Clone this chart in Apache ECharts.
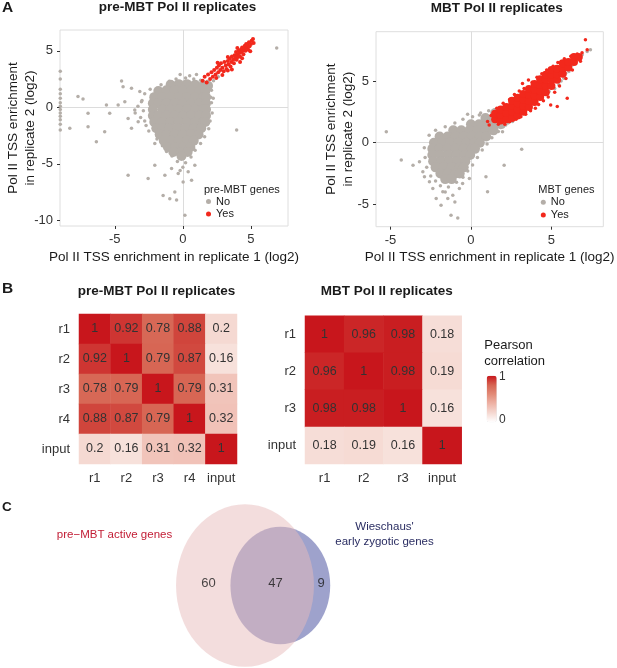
<!DOCTYPE html>
<html>
<head>
<meta charset="utf-8">
<title>Pol II replicates</title>
<script src="https://cdn.jsdelivr.net/npm/echarts@6/dist/echarts.min.js"></script>
<style>
  html, body { margin: 0; padding: 0; background: #fff; }
  #chart { width: 617px; height: 668px; }
</style>
</head>
<body>
<div id="chart"></div>
<script>
// ---- values (log2 enrichment, replicate 1 vs replicate 2) ----
// the dense cloud is summarised by a coarse set of points, outliers are kept one by one
const preCloud = [
  [-0.9,2.0],[-0.3,2.05],[0.3,2.05],[0.9,2.0],[1.5,1.95],[1.85,1.9],
  [-1.8,1.45],[-1.2,1.5],[-0.6,1.5],[0,1.5],[0.6,1.5],[1.2,1.45],[1.65,1.45],
  [-2.1,0.9],[-1.5,0.9],[-0.9,0.9],[-0.3,0.9],[0.3,0.9],[0.9,0.9],[1.5,0.9],[1.7,0.9],
  [-2.2,0.35],[-1.8,0.35],[-1.2,0.35],[-0.6,0.35],[0,0.35],[0.6,0.35],[1.2,0.35],[1.7,0.35],
  [-2.2,-0.2],[-1.5,-0.2],[-0.9,-0.2],[-0.3,-0.2],[0.3,-0.2],[0.9,-0.2],[1.5,-0.2],[1.7,-0.2],
  [-2.2,-0.75],[-1.8,-0.75],[-1.2,-0.75],[-0.6,-0.75],[0,-0.75],[0.6,-0.75],[1.2,-0.75],[1.7,-0.75],
  [-2.1,-1.3],[-1.5,-1.3],[-0.9,-1.3],[-0.3,-1.3],[0.3,-1.3],[0.9,-1.3],[1.5,-1.3],[1.65,-1.3],
  [-1.95,-1.85],[-1.5,-1.85],[-1.0,-1.85],[-0.4,-1.85],[0.2,-1.85],[0.8,-1.85],[1.35,-1.85],
  [-1.7,-2.4],[-1.2,-2.4],[-0.6,-2.4],[0,-2.4],[0.6,-2.4],[1.15,-2.4],
  [-1.4,-2.95],[-0.85,-2.95],[-0.3,-2.95],[0.3,-2.95],[0.8,-2.95],
  [-1.1,-3.5],[-0.55,-3.5],[0.05,-3.5],[0.55,-3.5],
  [-0.7,-3.95],[-0.15,-3.95],[0.35,-3.95],[-0.1,-4.3]
];
const preOther = [
  [-0.5,2.5],[0.2,2.6],[0.8,2.5],[1.3,2.4],[-1.0,2.3],[1.8,2.3],[-1.6,2.0],[0.5,2.8],[-0.2,2.9],[1.0,2.9],
  [-2.8,1.2],[-3.0,0.6],[-2.9,-0.3],[-3.1,-0.9],[-2.7,-1.6],[-2.5,-2.1],[-2.4,1.6],[-3.3,0.1],[-3.5,-0.5],[-2.8,-1.2],
  [2.1,1.5],[2.1,0.4],[2.15,-0.5],[2.0,-1.2],[1.9,-1.9],[1.6,-2.6],[1.3,-3.2],[2.05,0.9],
  [-1.9,-2.8],[-1.5,-3.4],[-1.2,-3.9],[-0.8,-4.3],[0.9,-3.8],[0.6,-4.4],[-0.4,-4.8],[0.2,-4.9],[0.0,-5.3],[-0.2,-5.6],
  [6.89,5.24],[-4.39,1.83],[-4.5,2.33],[-7.7,0.95],[-7.33,0.74],[-8.3,-1.86],[-6.96,-1.72],[-6.96,-0.53],[-6.35,-3.05],
  [-5.61,0.2],[-5.37,-0.53],[-5.74,-2.16],[-4.75,0.2],[-4.26,0.5],[-4.02,-0.98],[-3.77,-1.86],[-3.53,-0.24],
  [-3.28,-1.27],[-3.04,0.5],[-3.16,1.39],[-3.77,1.69],[-4.02,-6.0],[-2.55,-6.3],[-2.06,-5.12],[-1.32,-6.0],
  [-0.96,-8.08],[-0.59,-7.49],[0.15,-9.56],[0.02,-6.6],[0.39,-5.7],[0.64,-6.45],[0.88,-5.12],[3.95,-2.01],
  [-0.83,-5.41],[-0.34,-5.86],[-2.06,-3.2],[2.23,0.8],[-1.45,-7.8],[-0.46,-8.2],
  [1.9,2.2],[2.25,2.35],[1.55,2.1],[2.6,2.7],
  [-9,3.2],[-9,2.5],[-9,1.6],[-9,1.2],[-9,0.8],[-9,0.4],[-9,0.1],[-9,-0.2],[-9,-0.5],[-9,-0.8],[-9,-1.1],[-9,-1.5],[-9,-2.0]
];
const preActive = [
  [1.45,2.35],[1.6,2.7],[1.75,2.2],[1.85,2.9],[2.0,2.5],[2.1,3.1],[2.2,2.7],[2.3,3.3],[2.4,2.9],[2.5,3.5],
  [2.6,3.1],[2.65,3.7],[2.75,3.3],[2.8,3.9],[2.9,3.5],[3.0,3.2],[3.05,4.0],[3.15,3.7],[3.2,3.4],[3.3,4.1],
  [3.35,3.8],[3.45,4.3],[3.5,3.6],[3.55,4.0],[3.6,4.5],[3.7,4.2],[3.75,3.9],[3.8,4.6],[3.85,4.4],[3.9,4.9],
  [3.95,4.2],[4.0,4.7],[4.05,4.45],[4.1,5.0],[4.15,4.8],[4.2,4.5],[4.25,5.1],[4.3,4.9],[4.35,5.3],[4.4,5.0],
  [4.45,4.7],[4.5,5.2],[4.55,5.45],[4.6,5.0],[4.65,5.6],[4.7,5.3],[4.75,5.5],[4.8,5.1],[4.85,5.75],[4.9,5.4],
  [5.0,5.6],[5.05,5.9],[5.15,6.05],[5.2,5.7],[4.35,4.35],[3.3,3.25],[2.45,2.6],[4.95,4.95],
  [2.9,2.85],[3.6,3.35],[4.2,4.0],[3.3,4.45],[2.55,3.95],[4.0,5.25]
];

const mbtCloud = [
  [1.5,2.4],[1.95,2.4],
  [0.9,2.0],[1.4,2.0],[1.85,2.0],
  [0.0,1.5],[0.5,1.5],[1.0,1.5],[1.5,1.5],[1.85,1.5],
  [-1.1,1.0],[-0.6,1.0],[-0.1,1.0],[0.4,1.0],[0.9,1.0],[1.4,1.0],
  [-1.95,0.5],[-1.45,0.5],[-0.95,0.5],[-0.45,0.5],[0.05,0.5],[0.55,0.5],[0.95,0.5],
  [-2.3,0],[-1.8,0],[-1.3,0],[-0.8,0],[-0.3,0],[0.2,0],[0.55,0],
  [-2.4,-0.5],[-1.95,-0.5],[-1.45,-0.5],[-0.95,-0.5],[-0.45,-0.5],[0.05,-0.5],[0.25,-0.5],
  [-2.4,-1],[-1.9,-1],[-1.4,-1],[-0.9,-1],[-0.4,-1],[-0.05,-1],
  [-2.35,-1.5],[-1.85,-1.5],[-1.35,-1.5],[-0.85,-1.5],[-0.35,-1.5],
  [-2.2,-2],[-1.7,-2],[-1.2,-2],[-0.7,-2],[-0.45,-2],
  [-1.9,-2.5],[-1.45,-2.5],[-0.95,-2.5],[-0.7,-2.5],
  [-1.6,-2.95],[-1.2,-2.95]
];
const mbtOther = [
  [-2.9,-0.4],[-2.85,-1.2],[-2.75,-2.0],[-2.5,-2.7],[-2.2,-3.1],[-1.9,-3.5],[-1.4,-3.6],[-0.9,-3.2],[-0.5,-2.8],
  [-0.2,-2.3],[0.1,-1.8],[0.4,-1.2],[0.7,-0.6],[1.0,-0.1],[1.3,0.4],[1.7,0.9],[2.0,1.3],[2.3,1.6],
  [-2.6,0.6],[-2.2,1.0],[-1.6,1.3],[-1.0,1.6],[-0.5,1.9],[0.1,2.1],[0.6,2.4],[1.1,2.6],
  [-5.26,0.89],[-4.33,-1.41],[-3.6,-1.82],[-3.2,-1.54],[-2.99,-2.36],[-2.89,-2.76],[-2.58,-3.17],[-2.37,-3.71],
  [-2.16,-4.53],[-1.75,-3.98],[-1.44,-4.53],[-1.13,-4.25],[-1.86,-5.07],[-1.24,-5.88],[-0.82,-6.1],[-0.72,-3.71],
  [-0.52,-3.3],[-0.1,-2.9],[1.03,-3.98],[0.93,-2.76],[2.06,-1.82],[3.15,-0.54],[-0.21,2.3],[0.52,2.25],
  [-1.6,-4.0],[-1.0,-4.8],
  [5.46,4.69],[5.77,5.23],[6.08,5.77],[6.49,6.59],[6.91,7.13],[7.22,7.4],[7.42,7.53],[6.29,6.31],[5.88,5.64],
  [4.85,4.15],[4.43,3.74],[3.61,2.79],[2.99,2.25],[2.58,1.71],[2.16,1.44],[1.96,0.89],[5.2,4.4],[6.7,6.9],
  [6.0,6.0],[5.6,5.0]
];
const mbtActiveBand = [
  [1.5,1.9],[1.5,2.35],[1.85,1.8],[1.85,2.25],[1.85,2.7],[2.2,1.9],[2.2,2.4],[2.2,2.9],
  [2.55,2.0],[2.55,2.5],[2.55,3.0],[2.55,3.4],[2.9,2.2],[2.9,2.7],[2.9,3.2],[2.9,3.65],
  [3.25,2.5],[3.25,3.0],[3.25,3.5],[3.25,3.95],[3.6,2.9],[3.6,3.4],[3.6,3.9],[3.6,4.35],
  [3.95,3.3],[3.95,3.8],[3.95,4.3],[3.95,4.75],[4.3,3.7],[4.3,4.2],[4.3,4.7],[4.3,5.15],
  [4.65,4.1],[4.65,4.6],[4.65,5.1],[4.65,5.5],[5.0,4.6],[5.0,5.1],[5.0,5.55],[5.0,5.9],
  [5.35,5.1],[5.35,5.55],[5.35,6.0],[5.7,5.6],[5.7,6.05],[5.7,6.45],
  [6.05,6.1],[6.05,6.55],[6.4,6.55],[6.4,6.95],[6.7,6.95]
];
const mbtActiveOther = [
  [1.03,1.71],[1.13,1.44],[1.25,2.2],[1.44,1.98],[1.6,2.8],[1.7,1.5],[2.0,3.2],[2.1,1.5],[2.4,3.5],[2.4,1.7],
  [2.7,3.9],[2.8,1.9],[3.0,4.2],[3.1,2.1],[3.3,4.4],[3.4,2.3],[3.57,5.09],[3.7,2.6],[3.8,4.9],[4.0,2.8],
  [4.1,5.3],[4.2,3.1],[4.4,5.6],[4.5,3.4],[4.7,5.9],[4.8,3.7],[4.95,3.06],[5.1,6.2],[5.2,4.1],[5.36,2.93],
  [5.4,6.5],[5.5,4.6],[5.8,6.8],[5.9,5.2],[5.98,3.6],[6.2,7.0],[6.3,5.9],[6.6,7.2],[6.9,7.3],[7.11,8.35],
  [7.22,7.53],[6.8,6.6],[3.2,4.8],[1.9,2.0],[2.3,2.2]
];

const preTicksX = [-5, 0, 5];
const preTicksY = [-10, -5, 0, 5];
const mbtTicksX = [-5, 0, 5];
const mbtTicksY = [-5, 0, 5];

// Pearson correlation between replicates
const preLabels = ['r1', 'r2', 'r3', 'r4', 'input'];
const preCorr = [
  [1, 0.92, 0.78, 0.88, 0.2],
  [0.92, 1, 0.79, 0.87, 0.16],
  [0.78, 0.79, 1, 0.79, 0.31],
  [0.88, 0.87, 0.79, 1, 0.32],
  [0.2, 0.16, 0.31, 0.32, 1]
];
const mbtLabels = ['r1', 'r2', 'r3', 'input'];
const mbtCorr = [
  [1, 0.96, 0.98, 0.18],
  [0.96, 1, 0.98, 0.19],
  [0.98, 0.98, 1, 0.16],
  [0.18, 0.19, 0.16, 1]
];

// Venn counts
const vennSetNames = ['pre\u2212MBT active genes', 'Wieschaus\'\nearly zygotic genes'];
const vennOnly = [60, 9];
const vennShared = 47;

// ---- styling ----
const FONT = '"Liberation Sans", Arial, Helvetica, sans-serif';
const GRAY = '#b4aea8';
const RED = '#f2281c';
const HEAT = ['#ffffff', '#f5d9d2', '#eeb3a6', '#e28b78', '#d66452', '#c8161c'];

const chart = echarts.init(document.getElementById('chart'), null, { renderer: 'canvas' });

function scatterX(g, range, ticks) {
  return {
    type: 'value', gridIndex: g, min: range[0], max: range[1],
    name: 'Pol II TSS enrichment in replicate 1 (log2)', nameLocation: 'middle', nameGap: 24,
    nameMoveOverlap: false,
    nameTextStyle: { fontSize: 13.5, color: '#1a1a1a' },
    axisLine: { show: false, onZero: false },
    axisTick: { show: true, length: 3, customValues: ticks, lineStyle: { color: '#333' } },
    axisLabel: { customValues: ticks, fontSize: 13, color: '#333', margin: 7 },
    splitLine: { show: false }
  };
}
function scatterY(g, range, ticks, gap) {
  return {
    type: 'value', gridIndex: g, min: range[0], max: range[1],
    name: 'Pol II TSS enrichment\nin replicate 2 (log2)', nameLocation: 'middle', nameGap: gap,
    nameMoveOverlap: false,
    nameTextStyle: { fontSize: 13.5, color: '#1a1a1a', lineHeight: 17 },
    axisLine: { show: false, onZero: false },
    axisTick: { show: true, length: 3, customValues: ticks, lineStyle: { color: '#333' } },
    axisLabel: { customValues: ticks, fontSize: 13, color: '#333', margin: 7 },
    splitLine: { show: false }
  };
}
function catAxis(g, labels, isY) {
  return {
    type: 'category', gridIndex: g, data: labels, inverse: !!isY,
    axisLine: { show: false }, axisTick: { show: false },
    axisLabel: { fontSize: 13, color: '#333', margin: isY ? 9 : 8, interval: 0 },
    splitLine: { show: false }, splitArea: { show: false }
  };
}
function dots(name, g, data, size, color, zeroLines) {
  const s = {
    name: name, type: 'scatter', xAxisIndex: g, yAxisIndex: g, data: data,
    symbol: 'circle', symbolSize: size, itemStyle: { color: color, opacity: 1 },
    silent: true, z: 3
  };
  if (zeroLines) {
    s.markLine = {
      silent: true, symbol: 'none', z: 1, animation: false,
      label: { show: false },
      lineStyle: { color: '#dcdcdc', type: 'solid', width: 1 },
      data: [{ xAxis: 0 }, { yAxis: 0 }]
    };
  }
  return s;
}
function cells(corr) {
  const out = [];
  corr.forEach((row, i) => row.forEach((v, j) => out.push([j, i, v])));
  return out;
}
function heat(g, corr) {
  return {
    type: 'heatmap', xAxisIndex: g, yAxisIndex: g, data: cells(corr),
    label: { show: true, formatter: p => String(p.value[2]), fontSize: 12.5, color: '#333' },
    itemStyle: { borderWidth: 0 }, emphasis: { disabled: true }, silent: true
  };
}

// Venn layout: radius from set size, centre spacing fixed by eye
const vennTotals = [vennOnly[0] + vennShared, vennOnly[1] + vennShared];
const vennR = vennTotals.map(n => Math.sqrt(n));
const vennGap = 5.3;
const bigL = -vennR[0], bigR = vennR[0];
const smallL = vennGap - vennR[1], smallR = vennGap + vennR[1];
const vennLabels = [
  [(bigL + smallL) / 2 + 0.8, 0.3, vennOnly[0]],
  [(smallL + bigR) / 2 + 0.5, 0.3, vennShared],
  [(bigR + smallR) / 2 - 0.15, 0.3, vennOnly[1]]
];
const vennFill = ['rgba(61,69,153,0.5)', 'rgba(232,187,187,0.5)'];

function txt(x, y, text, size, opts) {
  opts = opts || {};
  return {
    type: 'text', x: x, y: y, silent: true,
    style: {
      text: text, fontSize: size, fontFamily: FONT, fontWeight: opts.bold ? 'bold' : 'normal',
      fill: opts.color || '#1a1a1a',
      align: opts.align || 'left', textAlign: opts.align || 'left',
      verticalAlign: 'middle', textVerticalAlign: 'middle',
      lineHeight: opts.lineHeight
    }
  };
}

const option = {
  animation: false,
  textStyle: { fontFamily: FONT },
  grid: [
    { left: 60, top: 30, width: 228, height: 196, show: true, borderColor: '#dedede', borderWidth: 1, backgroundColor: 'transparent' },
    { left: 376, top: 31.7, width: 227.3, height: 195, show: true, borderColor: '#dedede', borderWidth: 1, backgroundColor: 'transparent' },
    { left: 79, top: 314, width: 158, height: 150 },
    { left: 305, top: 315.7, width: 156.7, height: 148.3 },
    { left: 145, top: 503, width: 200, height: 165 }
  ],
  xAxis: [
    scatterX(0, [-9.02, 7.72], preTicksX),
    scatterX(1, [-5.9, 8.22], mbtTicksX),
    catAxis(2, preLabels, false),
    catAxis(3, mbtLabels, false),
    { type: 'value', gridIndex: 4, min: -15, max: 15, show: false }
  ],
  yAxis: [
    scatterY(0, [-10.5, 6.84], preTicksY, 21),
    scatterY(1, [-6.81, 9.0], mbtTicksY, 19),
    catAxis(2, preLabels, true),
    catAxis(3, mbtLabels, true),
    { type: 'value', gridIndex: 4, min: -10.5, max: 10.5, show: false }
  ],
  legend: [
    {
      data: [{ name: 'No', itemStyle: { color: GRAY } }, { name: 'Yes', itemStyle: { color: RED } }],
      orient: 'vertical', left: 206, top: 195.2, padding: 0, itemGap: 0,
      icon: 'circle', itemWidth: 5, itemHeight: 5, selectedMode: false,
      textStyle: { fontSize: 11, color: '#1a1a1a', lineHeight: 12.6 }
    },
    {
      data: [{ name: 'No', itemStyle: { color: GRAY } }, { name: 'Yes', itemStyle: { color: RED } }],
      orient: 'vertical', left: 540.8, top: 196, padding: 0, itemGap: 0,
      icon: 'circle', itemWidth: 5, itemHeight: 5, selectedMode: false,
      textStyle: { fontSize: 11, color: '#1a1a1a', lineHeight: 12.6 }
    }
  ],
  visualMap: {
    type: 'continuous', min: 0, max: 1, seriesIndex: [7, 8], dimension: 2,
    calculable: false, orient: 'vertical', left: 486.7, top: 375.7, padding: 0,
    itemWidth: 10, itemHeight: 46.6, text: null,
    inRange: { color: HEAT }
  },
  series: [
    dots('No', 0, preCloud, 10, GRAY, true),
    dots('No', 0, preOther, 3.5, GRAY),
    dots('Yes', 0, preActive, 4, RED),
    dots('No', 1, mbtCloud, 10, GRAY, true),
    dots('No', 1, mbtOther, 3.5, GRAY),
    dots('Yes', 1, mbtActiveOther, 3.5, RED),
    dots('Yes', 1, mbtActiveBand, 8, RED),
    heat(2, preCorr),
    heat(3, mbtCorr),
    {
      type: 'custom', xAxisIndex: 4, yAxisIndex: 4, silent: true,
      data: [[vennGap, 0, vennR[1]], [0, 0, vennR[0]]],
      renderItem: function (params, api) {
        const c = api.coord([api.value(0), api.value(1)]);
        const s = api.size([api.value(2), api.value(2)]);
        return {
          type: 'circle', x: c[0], y: c[1], scaleX: s[0] / s[1],
          shape: { cx: 0, cy: 0, r: s[1] },
          style: { fill: vennFill[params.dataIndex] }
        };
      }
    },
    {
      type: 'scatter', xAxisIndex: 4, yAxisIndex: 4, silent: true, z: 5,
      data: vennLabels, symbolSize: 1, itemStyle: { color: 'rgba(0,0,0,0)' },
      label: { show: true, position: 'inside', formatter: p => String(p.value[2]), fontSize: 13, color: '#1a1a1a' }
    }
  ],
  graphic: {
    elements: [
      txt(2, 8, 'A', 15.5, { bold: true }),
      txt(2, 289, 'B', 15.5, { bold: true }),
      txt(2, 507, 'C', 13.5, { bold: true }),
      txt(177.5, 7.5, 'pre-MBT Pol II replicates', 13.5, { bold: true, align: 'center' }),
      txt(496.7, 8, 'MBT Pol II replicates', 13.5, { bold: true, align: 'center' }),
      txt(156.5, 291, 'pre-MBT Pol II replicates', 13.5, { bold: true, align: 'center' }),
      txt(386.7, 291, 'MBT Pol II replicates', 13.5, { bold: true, align: 'center' }),
      txt(204, 190, 'pre-MBT genes', 11),
      txt(538.3, 190.3, 'MBT genes', 11),
      txt(484.3, 345.7, 'Pearson', 13),
      txt(484.3, 361.7, 'correlation', 13),
      txt(499, 376.5, '1', 12, { color: '#333' }),
      txt(499, 419.7, '0', 12, { color: '#333' }),
      txt(114.5, 534.5, vennSetNames[0], 11.5, { color: '#c21d35', align: 'center' }),
      txt(384.5, 534.5, vennSetNames[1], 11.5, { color: '#2a2d62', align: 'center', lineHeight: 15 })
    ]
  }
};

chart.setOption(option);
window.addEventListener('resize', chart.resize);
</script>
</body>
</html>
